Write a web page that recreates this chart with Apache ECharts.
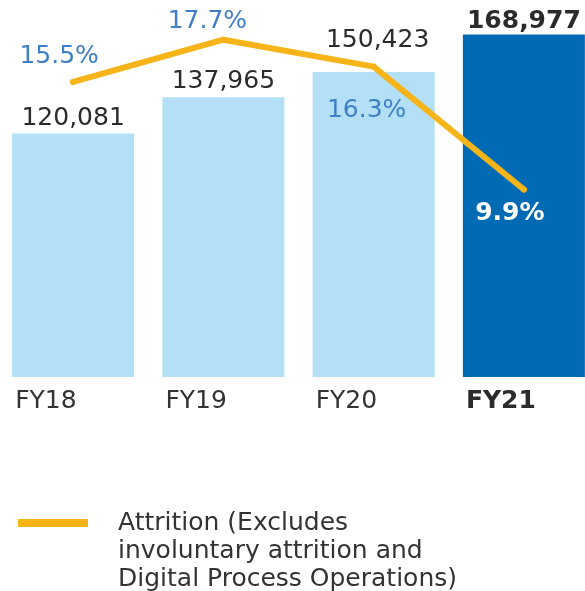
<!DOCTYPE html>
<html>
<head>
<meta charset="utf-8">
<script src="https://cdn.jsdelivr.net/npm/echarts@6/dist/echarts.min.js"></script>
<style>
  html, body { margin: 0; padding: 0; background: #fff; }
  #chart { width: 585px; height: 591px; }
</style>
</head>
<body>
<div id="chart"></div>
<script>
  // data
  const categories = ['FY18', 'FY19', 'FY20', 'FY21']
  const employees = [120081, 137965, 150423, 168977]
  const attrition = [15.5, 17.7, 16.3, 9.9]
  const attritionName = 'Attrition (Excludes involuntary attrition and Digital Process Operations)'
  const attritionLegendLines = ['Attrition (Excludes', 'involuntary attrition and', 'Digital Process Operations)']

  // styling per category
  const barColors = ['#b3e0f7', '#b3e0f7', '#b3e0f7', '#006ab5']
  const barLabelOffset = [[0, 0], [0, 0], [4, -16], [0, 2]]
  const pctLabelOffset = [[-14, -25], [-16, -18], [-7, 44], [-14, 24]]
  const font = 'DejaVu Sans'
  const last = categories.length - 1

  const chart = echarts.init(document.getElementById('chart'))

  const option = {
    animation: false,
    textStyle: { fontFamily: font },
    grid: { left: -2, width: 601, top: 0, bottom: 214, containLabel: false, outerBoundsMode: 'none' },
    xAxis: {
      type: 'category',
      data: categories,
      axisLine: { show: false },
      axisTick: { show: false },
      axisLabel: {
        margin: 12,
        align: 'center',
        formatter: (v, i) => (i === last ? '{b|' : '{a|') + v + '}',
        rich: {
          a: { width: 116, align: 'left', fontSize: 25, color: '#333', fontFamily: font },
          b: { width: 116, align: 'left', fontSize: 25, color: '#2b2b2b', fontWeight: 'bold', fontFamily: font }
        }
      }
    },
    yAxis: [
      { type: 'value', min: 0, max: 186000, show: false },
      { type: 'value', min: 0.13, max: 19.77, show: false }
    ],
    legend: {
      left: 13,
      top: 448,
      icon: 'rect',
      itemWidth: 70,
      itemHeight: 8,
      data: [attritionName],
      formatter: () => '\n\n' + attritionLegendLines.join('\n'),
      textStyle: {
        fontFamily: font,
        fontSize: 25,
        lineHeight: 28,
        color: '#333',
        padding: [0, 0, 0, 25]
      }
    },
    series: [
      {
        type: 'bar',
        yAxisIndex: 0,
        barWidth: 122,
        data: employees.map((v, i) => ({
          value: v,
          itemStyle: { color: barColors[i] },
          label: {
            offset: barLabelOffset[i],
            fontWeight: i === last ? 'bold' : 'normal'
          }
        })),
        label: {
          show: true,
          position: 'top',
          distance: 3,
          fontSize: 25,
          color: '#2b2b2b',
          fontFamily: font,
          formatter: p => p.value.toLocaleString('en-US')
        },
        z: 2
      },
      {
        name: attritionName,
        type: 'line',
        yAxisIndex: 1,
        data: attrition.map((v, i) => ({
          value: v,
          label: {
            offset: pctLabelOffset[i],
            color: i === last ? '#fff' : '#3f7fc6',
            fontWeight: i === last ? 'bold' : 'normal'
          }
        })),
        symbol: 'circle',
        symbolSize: 6,
        itemStyle: { color: '#f7b418' },
        lineStyle: { width: 6, color: '#f7b418', cap: 'round', join: 'round' },
        label: {
          show: true,
          position: 'inside',
          fontSize: 25,
          fontFamily: font,
          formatter: p => p.value.toFixed(1) + '%'
        },
        z: 3
      }
    ]
  }

  chart.setOption(option)
</script>
</body>
</html>
